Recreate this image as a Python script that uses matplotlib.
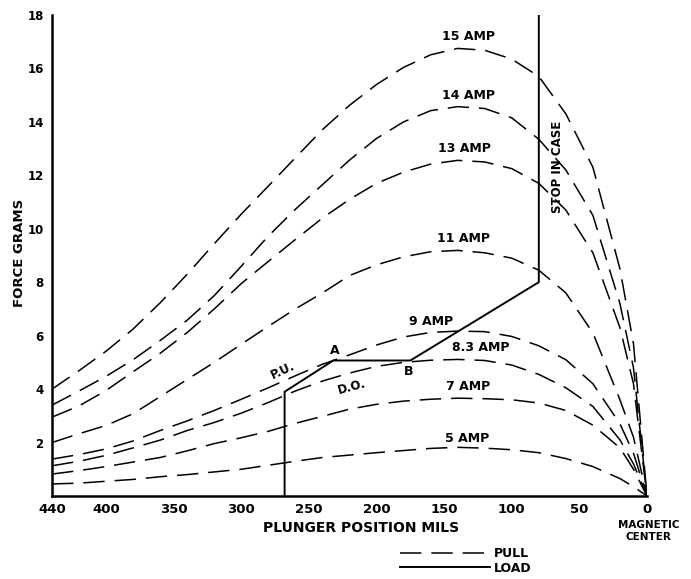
import numpy as np
import matplotlib
matplotlib.use("Agg")
import matplotlib.pyplot as plt
from matplotlib.lines import Line2D
from matplotlib.transforms import blended_transform_factory

# plunger position (mils) where the pull curves were read
posicion = [440, 420, 400, 380, 360, 340, 320, 300, 280, 260, 240, 220,
            200, 180, 160, 140, 120, 100, 80, 60, 40, 20, 10, 0]

# pull force (grams) for each coil current
pull_15 = [4.0, 4.69, 5.42, 6.25, 7.23, 8.30, 9.44, 10.55, 11.6, 12.66, 13.71, 14.62,
           15.4, 16.04, 16.51, 16.75, 16.68, 16.35, 15.7, 14.3, 12.3, 8.5, 5.7, 0]
pull_14 = [3.4, 3.93, 4.48, 5.1, 5.82, 6.58, 7.5, 8.6, 9.73, 10.73, 11.65, 12.57,
           13.38, 14.0, 14.42, 14.57, 14.5, 14.15, 13.35, 12.2, 10.5, 7.2, 4.8, 0]
pull_13 = [2.95, 3.37, 3.95, 4.65, 5.34, 6.12, 7.0, 7.95, 8.78, 9.6, 10.4, 11.1,
           11.7, 12.12, 12.42, 12.56, 12.5, 12.25, 11.7, 10.7, 9.1, 6.3, 4.2, 0]
pull_11 = [2.0, 2.33, 2.64, 3.08, 3.72, 4.36, 5.0, 5.68, 6.35, 7.0, 7.6, 8.25,
           8.65, 8.95, 9.14, 9.19, 9.1, 8.9, 8.45, 7.6, 6.1, 3.6, 2.2, 0]
pull_9 = [1.38, 1.55, 1.76, 2.06, 2.45, 2.81, 3.2, 3.62, 4.05, 4.5, 4.93, 5.28,
          5.65, 5.95, 6.12, 6.17, 6.15, 5.97, 5.62, 5.1, 4.2, 2.7, 1.6, 0]
pull_83 = [1.13, 1.3, 1.52, 1.8, 2.09, 2.45, 2.75, 3.1, 3.5, 3.93, 4.3, 4.6,
           4.85, 5.0, 5.08, 5.11, 5.07, 4.9, 4.55, 4.05, 3.35, 2.1, 1.2, 0]
pull_7 = [0.82, 0.95, 1.1, 1.27, 1.44, 1.69, 1.96, 2.18, 2.42, 2.72, 2.98, 3.25,
          3.43, 3.55, 3.62, 3.66, 3.64, 3.6, 3.48, 3.2, 2.65, 1.8, 1.0, 0]
pull_5 = [0.45, 0.48, 0.55, 0.62, 0.72, 0.8, 0.9, 1.0, 1.15, 1.3, 1.44, 1.53,
          1.62, 1.7, 1.78, 1.82, 1.79, 1.73, 1.62, 1.4, 1.1, 0.65, 0.35, 0]

curvas = [pull_15, pull_14, pull_13, pull_11, pull_9, pull_83, pull_7, pull_5]
etiquetas = ["15 AMP", "14 AMP", "13 AMP", "11 AMP", "9 AMP", "8.3 AMP", "7 AMP", "5 AMP"]
# where each curve label sits (mils, grams)
etiqueta_x = [132, 132, 135, 136, 160, 123, 132, 133]
etiqueta_y = [17.2, 15.0, 13.0, 9.65, 6.54, 5.55, 4.08, 2.16]

# load line: pick-up step, A, B, knee, stop in case
carga_x = [268, 268, 232, 175, 80, 80]
carga_y = [0, 3.9, 5.07, 5.07, 8.0, 18.0]

x_ticks = [440, 400, 350, 300, 250, 200, 150, 100, 50, 0]
y_ticks = [2, 4, 6, 8, 10, 12, 14, 16, 18]

fuente = {"family": "DejaVu Sans", "weight": "bold"}

fig = plt.figure(figsize=(6.91, 5.79), dpi=100)
ax = fig.add_axes([0.0753, 0.1434, 0.861, 0.8307])

lineas = []
for valores in curvas:
    ln, = ax.plot(posicion, valores, color="black", lw=1.1, dashes=(14, 6.5))
    lineas.append(ln)

for txt, tx, ty in zip(etiquetas, etiqueta_x, etiqueta_y):
    ax.text(tx, ty, txt, ha="center", va="center", fontsize=9, **fuente)

carga, = ax.plot(carga_x, carga_y, color="black", lw=1.4, solid_joinstyle="miter")

ax.text(66, 12.3, "STOP IN CASE", rotation=90, ha="center", va="center", fontsize=8.5, **fuente)
ax.text(269, 4.68, "P.U.", rotation=25, ha="center", va="center", fontsize=8.5, **fuente)
ax.text(231, 5.45, "A", ha="center", va="center", fontsize=9, **fuente)
ax.text(176, 4.65, "B", ha="center", va="center", fontsize=9, **fuente)
ax.text(218, 4.07, "D.O.", rotation=15, ha="center", va="center", fontsize=8.5, **fuente)

ax.set_xlim(440, 0)
ax.set_ylim(0, 18)
ax.set_xticks(x_ticks)
ax.set_xticklabels([str(v) for v in x_ticks], fontsize=9.5, **fuente)
ax.set_yticks(y_ticks)
ax.set_yticklabels([str(v) for v in y_ticks], fontsize=8.5, **fuente)
ax.tick_params(axis="both", length=0)
ax.tick_params(axis="x", pad=5)
ax.tick_params(axis="y", pad=6)

for lado in ["top", "right"]:
    ax.spines[lado].set_visible(False)
for lado in ["left", "bottom"]:
    ax.spines[lado].set_linewidth(1.8)

mezcla = blended_transform_factory(ax.transData, ax.transAxes)
ax.text(-1, -0.073, "MAGNETIC\nCENTER", transform=mezcla, ha="center", va="center",
        fontsize=7.5, linespacing=1.3, **fuente)

fig.text(0.5 * (248 + 474) / 691, 1 - 528 / 579, "PLUNGER POSITION MILS",
         ha="center", va="center", fontsize=10, **fuente)
fig.text(20 / 691, 1 - 253 / 579, "FORCE GRAMS", rotation=90,
         ha="center", va="center", fontsize=9.5, **fuente)

fig.legend([lineas[0], carga], ["PULL", "LOAD"], loc="center",
           bbox_to_anchor=(466 / 691, 1 - 561 / 579), frameon=False,
           handlelength=7.2, handletextpad=0.3, labelspacing=0.1,
           prop={"family": "DejaVu Sans", "weight": "bold", "size": 9})

fig.savefig("out.png", dpi=100, facecolor="white")
